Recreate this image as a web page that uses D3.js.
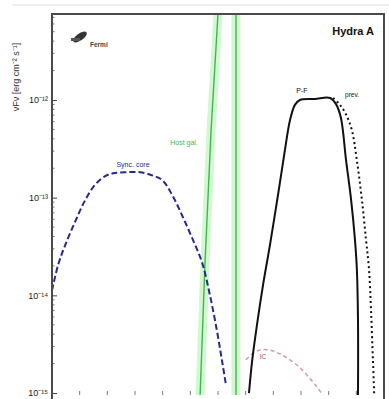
<!DOCTYPE html>
<html>
<head>
<meta charset="utf-8">
<script src="https://cdn.jsdelivr.net/npm/d3@7"></script>
<style>
  html, body { margin: 0; padding: 0; background: #fff; }
  svg { display: block; font-family: "Liberation Sans", Arial, sans-serif; }
</style>
</head>
<body>
<svg id="chart" width="389" height="399"></svg>
<script>
// Hydra A broadband SED components (log10 frequency [Hz], log10 flux [erg cm^-2 s^-1])
const syncLogNu   = [8.00, 8.22, 8.47, 8.83, 9.19, 9.55, 9.92, 10.21, 10.64, 11.18, 11.61, 11.98, 12.34, 12.70, 13.06, 13.42, 13.71, 13.96, 14.14, 14.29];
const syncLogFlux = [-13.95, -13.69, -13.49, -13.25, -13.03, -12.87, -12.78, -12.75, -12.74, -12.74, -12.77, -12.82, -12.97, -13.18, -13.41, -13.66, -14.00, -14.36, -14.66, -14.92];

const pfLogNu   = [15.12, 15.23, 15.41, 15.63, 15.88, 16.17, 16.42, 16.60, 16.78, 16.96, 17.50, 18.05, 18.26, 18.44, 18.63, 18.81, 18.95, 19.02, 19.06, 19.06];
const pfLogFlux = [-15.00, -14.68, -14.30, -13.89, -13.48, -12.97, -12.51, -12.21, -12.05, -12.00, -11.99, -11.98, -12.04, -12.18, -12.62, -13.02, -13.43, -13.74, -14.25, -15.05];

const prevLogNu   = [18.16, 18.41, 18.63, 18.84, 19.02, 19.20, 19.35, 19.46, 19.53, 19.60, 19.65];
const prevLogFlux = [-11.98, -12.05, -12.15, -12.31, -12.62, -13.02, -13.43, -13.74, -14.15, -14.66, -15.05];

const icLogNu   = [15.01, 15.23, 15.52, 15.88, 16.24, 16.60, 16.96, 17.32, 17.61, 17.83];
const icLogFlux = [-14.66, -14.60, -14.56, -14.56, -14.60, -14.66, -14.74, -14.85, -14.95, -15.04];

const hostLeftLogNu   = [14.00, 13.75, 13.53, 13.35];
const hostLeftLogFlux = [-11.12, -12.31, -13.67, -15.05];
const hostRightLogNu   = [14.65, 14.65];
const hostRightLogFlux = [-11.12, -15.05];

const yTickExps = [-12, -13, -14, -15];
const superDigits = {"-": "\u207B", "0": "\u2070", "1": "\u00B9", "2": "\u00B2", "3": "\u00B3", "4": "\u2074", "5": "\u2075", "6": "\u2076", "7": "\u2077", "8": "\u2078", "9": "\u2079"};

const svg = d3.select("#chart");
const plot = { left: 52, right: 384, top: 14, bottom: 395 };

const x = d3.scaleLog().domain([1e8, 1e20]).range([plot.left, plot.right]);
const y = d3.scaleLog().domain([Math.pow(10, -15.02), Math.pow(10, -11.12)]).range([plot.bottom, plot.top]);

const pts = (lx, ly) => lx.map((v, i) => [Math.pow(10, v), Math.pow(10, ly[i])]);
const line = d3.line().x(d => x(d[0])).y(d => y(d[1])).curve(d3.curveCatmullRom.alpha(0.5));
const straight = d3.line().x(d => x(d[0])).y(d => y(d[1]));

// thin outer figure rule
svg.append("line").attr("x1", 12).attr("x2", 389).attr("y1", 5).attr("y2", 5)
  .attr("stroke", "#e2e2e2").attr("stroke-width", 1);

svg.append("defs").append("clipPath").attr("id", "plotclip")
  .append("rect").attr("x", plot.left).attr("y", plot.top)
  .attr("width", plot.right - plot.left).attr("height", plot.bottom - plot.top);

const g = svg.append("g").attr("clip-path", "url(#plotclip)");

// host-galaxy band: pale halo + thin green edges
[[hostLeftLogNu, hostLeftLogFlux], [hostRightLogNu, hostRightLogFlux]].forEach(([lx, ly]) => {
  g.append("path").attr("d", straight(pts(lx, ly)))
    .attr("fill", "none").attr("stroke", "#d3f7d3").attr("stroke-width", 9);
});
[[hostLeftLogNu, hostLeftLogFlux], [hostRightLogNu, hostRightLogFlux]].forEach(([lx, ly]) => {
  g.append("path").attr("d", straight(pts(lx, ly)))
    .attr("fill", "none").attr("stroke", "#3fb84a").attr("stroke-width", 1.4);
});

// synchrotron component
g.append("path").attr("d", line(pts(syncLogNu, syncLogFlux)))
  .attr("fill", "none").attr("stroke", "#27288f").attr("stroke-width", 2)
  .attr("stroke-dasharray", "6,3");

// inverse-Compton component
g.append("path").attr("d", line(pts(icLogNu, icLogFlux)))
  .attr("fill", "none").attr("stroke", "#d99a9a").attr("stroke-width", 1.5)
  .attr("stroke-dasharray", "4,3");

// previous model (dotted)
g.append("path").attr("d", line(pts(prevLogNu, prevLogFlux)))
  .attr("fill", "none").attr("stroke", "#111").attr("stroke-width", 2)
  .attr("stroke-dasharray", "2,3");

// P-F component (solid)
g.append("path").attr("d", line(pts(pfLogNu, pfLogFlux)))
  .attr("fill", "none").attr("stroke", "#111").attr("stroke-width", 2);

// frame
svg.append("rect").attr("x", plot.left).attr("y", plot.top)
  .attr("width", plot.right - plot.left).attr("height", plot.bottom - plot.top + 10)
  .attr("fill", "none").attr("stroke", "#4a4a4a").attr("stroke-width", 2);

// y axis ticks (major + minor, inward)
const yAxis = d3.axisLeft(y).tickValues(yTickExps.map(e => Math.pow(10, e)))
  .tickSize(-5).tickFormat(d => "10" + String(Math.round(Math.log10(d))).split("").map(c => superDigits[c]).join(""));
const ya = svg.append("g").attr("transform", `translate(${plot.left},0)`).call(yAxis);
ya.select(".domain").remove();
ya.selectAll(".tick line").attr("stroke", "#444");
ya.selectAll(".tick text").attr("x", -4).attr("font-size", 9).attr("fill", "#222");

const minorY = [];
for (let e = -15; e < -11; e++) for (let m = 2; m < 10; m++) {
  const v = m * Math.pow(10, e);
  if (v <= y.domain()[1]) minorY.push(v);
}
svg.append("g").selectAll("line").data(minorY).join("line")
  .attr("x1", plot.left).attr("x2", plot.left + 2.5)
  .attr("y1", d => y(d)).attr("y2", d => y(d))
  .attr("stroke", "#555").attr("stroke-width", 0.8);

// x axis ticks along the bottom edge
const xTicks = d3.range(8, 21).map(e => Math.pow(10, e));
svg.append("g").selectAll("line").data(xTicks).join("line")
  .attr("x1", d => x(d)).attr("x2", d => x(d))
  .attr("y1", plot.bottom).attr("y2", plot.bottom - 4)
  .attr("stroke", "#555").attr("stroke-width", 0.8);

// y axis title
svg.append("text").attr("transform", "translate(19,77) rotate(-90)")
  .attr("text-anchor", "middle").attr("font-size", 9).attr("fill", "#333")
  .text("\u03BDF\u03BD [erg cm\u207B\u00B2 s\u207B\u00B9]");

// instrument badge
const badge = svg.append("g").attr("transform", "translate(80,37)");
badge.append("ellipse").attr("rx", 8).attr("ry", 3.5).attr("transform", "rotate(-35)").attr("fill", "#333");
badge.append("rect").attr("x", -9).attr("y", 1).attr("width", 9).attr("height", 3).attr("fill", "#555");
svg.append("text").attr("x", 90).attr("y", 47).attr("font-size", 6.5).attr("font-weight", "bold")
  .attr("fill", "#444").text("Fermi");

// title
svg.append("text").attr("x", 374).attr("y", 35).attr("text-anchor", "end")
  .attr("font-size", 11).attr("font-weight", "bold").attr("fill", "#111").text("Hydra A");

// component labels
svg.append("text").attr("x", 133).attr("y", 167).attr("text-anchor", "middle")
  .attr("font-size", 7).attr("fill", "#27288f").text("Sync. core");
svg.append("text").attr("x", 184).attr("y", 145).attr("text-anchor", "middle")
  .attr("font-size", 7).attr("fill", "#3fb84a").text("Host gal.");
svg.append("text").attr("x", 302).attr("y", 93).attr("text-anchor", "middle")
  .attr("font-size", 7).attr("fill", "#111").text("P-F");
svg.append("text").attr("x", 352).attr("y", 97).attr("text-anchor", "middle")
  .attr("font-size", 6.5).attr("fill", "#111").text("prev.");
svg.append("text").attr("x", 263).attr("y", 359).attr("text-anchor", "middle")
  .attr("font-size", 6.5).attr("fill", "#b05050").text("IC");
</script>
</body>
</html>
